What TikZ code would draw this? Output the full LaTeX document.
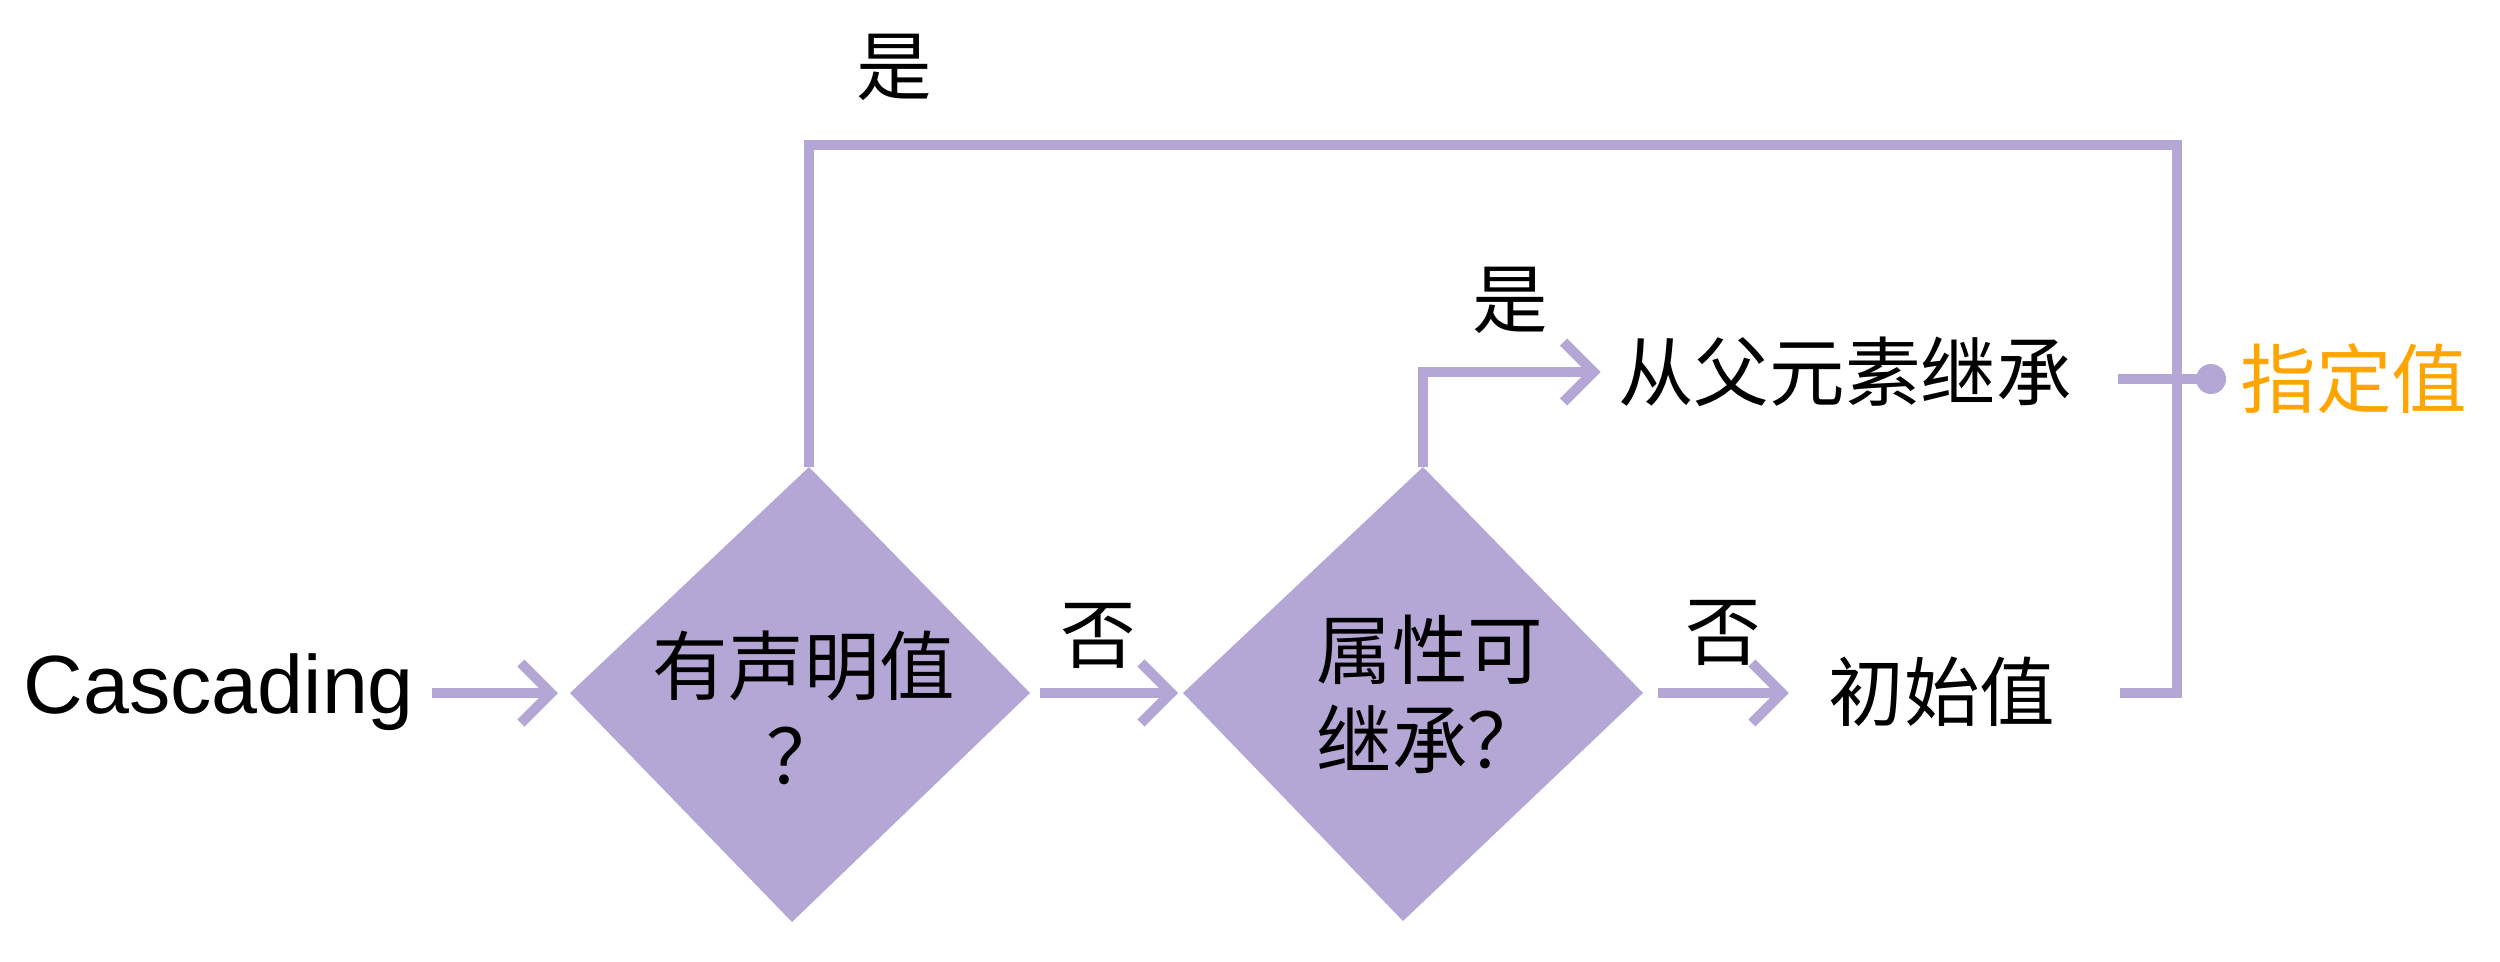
\documentclass[tikz,border=0pt]{standalone}
\usepackage{fontspec}
\setmainfont{Liberation Sans}
\newfontfamily\cjk{Noto Sans CJK SC}
\usetikzlibrary{arrows.meta}
\definecolor{flowpurple}{HTML}{B4A7D6}
\definecolor{specorange}{HTML}{FFA500}

\begin{document}
\begin{tikzpicture}[yscale=-1,
    flow/.style={draw=flowpurple, line width=1mm, line join=miter},
    arr/.style={flow, -{Straight Barb[length=3mm, width=6mm]}},
    lbl/.style={font=\cjk\fontsize{21.5}{25.6}\selectfont, inner sep=0pt}]
  \useasboundingbox (0,0) rectangle (25,9.61);
  \coordinate (d1l) at (5.70,6.93);
  \coordinate (d1t) at (8.09,4.67);
  \coordinate (d1r) at (10.30,6.93);
  \coordinate (d1b) at (7.92,9.22);
  \coordinate (d2l) at (11.83,6.93);
  \coordinate (d2t) at (14.23,4.67);
  \coordinate (d2r) at (16.43,6.93);
  \coordinate (d2b) at (14.03,9.21);
  \coordinate (cnr) at (21.77,1.45);
  \coordinate (dot) at (22.11,3.79);
  \fill[flowpurple] (d1l) -- (d1t) -- (d1r) -- (d1b) -- cycle;
  \fill[flowpurple] (d2l) -- (d2t) -- (d2r) -- (d2b) -- cycle;
  \node[inner sep=0pt, anchor=base west, font=\fontsize{23.5}{28}\selectfont] (cas) at (0.23,7.13) {Cascading};
  \node[lbl, align=center] (q1) at (8.04,7.08) {有声明值\\？};
  \node[lbl, align=left] (q2) at (14.30,6.94) {属性可\\继承？};
  \node[lbl] (inh) at (18.45,3.72) {从父元素继承};
  \node[lbl] (init) at (19.42,6.92) {初始值};
  \node[lbl, text=specorange] (spec) at (23.54,3.79) {指定值};
  \node[lbl] (yes1) at (8.94,0.67) {是};
  \node[lbl] (yes2) at (15.10,3.00) {是};
  \node[lbl] (no1) at (10.98,6.36) {否};
  \node[lbl] (no2) at (17.23,6.33) {否};
  \draw[arr, shorten <=1.7mm, shorten >=1.2mm] (cas.east |- d1l) -- (d1l);
  \draw[arr, shorten <=1mm, shorten >=0.5mm] (d1r) -- (d2l);
  \draw[arr, shorten >=1.7mm] (d2t) |- (inh.west);
  \draw[arr, shorten <=1.5mm, shorten >=3.9mm] (d2r) -- (init.west |- d2r);
  \draw[flow, shorten <=6.4mm] (init.east |- d2r) -| (cnr) -| (d1t);
  \draw[flow, shorten <=4.6mm] (dot -| inh.east) -- (dot);
  \fill[flowpurple] (dot) circle (1.5mm);
\end{tikzpicture}
\end{document}
